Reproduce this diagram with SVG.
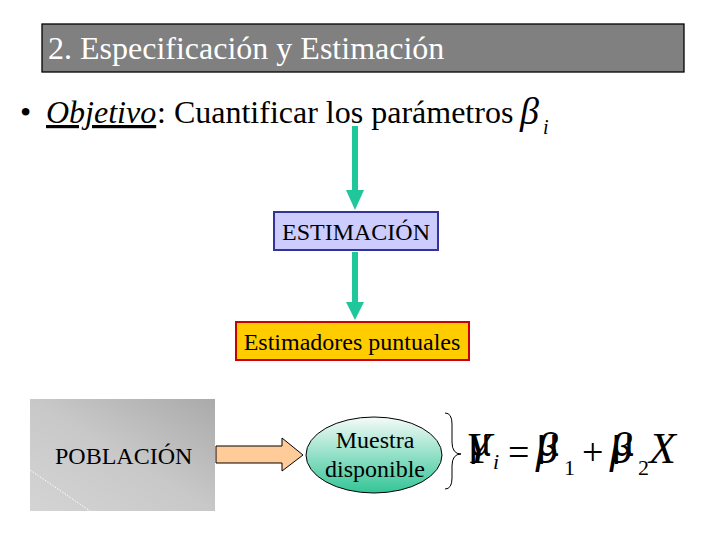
<svg xmlns="http://www.w3.org/2000/svg" width="720" height="540" viewBox="0 0 720 540">
<style>
.t{font-family:'Liberation Serif','Times New Roman',serif;fill:#000}
.it{font-style:italic}
.m{font-family:'Liberation Sans',Arial,sans-serif;font-weight:normal;fill:#000}
.green{fill:#1fc79a}
</style>
<defs>
<linearGradient id="pop" x1="0" y1="1" x2="1" y2="0">
<stop offset="0" stop-color="#d4d4d4"/>
<stop offset="0.5" stop-color="#c8c8c8"/>
<stop offset="1" stop-color="#aaaaaa"/>
</linearGradient>
<linearGradient id="ell" x1="0" y1="0" x2="0" y2="1">
<stop offset="0" stop-color="#f4fbf8"/>
<stop offset="1" stop-color="#33c596"/>
</linearGradient>
</defs>
<rect width="720" height="540" fill="#fff"/>
<g id="title">
<rect x="42" y="24" width="642" height="48" fill="#808080" stroke="#000" stroke-width="1.3"/>
<text class="t" x="48" y="59" font-size="32" style="fill:#fff">2. Especificación y Estimación</text>
</g>
<g id="objetivo">
<text class="t" x="20" y="123" font-size="32">•</text>
<text class="t it" x="46" y="123" font-size="32" text-decoration="underline">Objetivo</text>
<text class="t" x="157" y="123" font-size="32">: Cuantificar los parámetros</text>
<text class="t it" x="520" y="124" font-size="38">β</text>
<text class="t it" x="543" y="134" font-size="20">i</text>
</g>
<g id="connectors">
<rect class="green" x="352" y="126" width="6" height="66"/>
<polygon class="green" points="346,190 364,190 355,210"/>
<rect class="green" x="352" y="252" width="6" height="52"/>
<polygon class="green" points="346,302 364,302 355,320"/>
<polygon points="216,446 282,446 282,438 303,455 282,471 282,463 216,463" fill="#ffcc99" stroke="#000" stroke-width="1"/>
<path d="M445,413 Q452,413 452,424 L452,442 Q452,454 461,454 Q452,454 452,466 L452,478 Q452,489 445,489" fill="none" stroke="#000" stroke-width="1"/>
</g>
<g id="estimacion">
<rect x="274" y="212" width="164" height="38" fill="#ccccff" stroke="#333399" stroke-width="2"/>
<text class="t" x="356" y="240" font-size="24" text-anchor="middle">ESTIMACIÓN</text>
</g>
<g id="estimadores">
<rect x="236" y="322" width="233" height="38" fill="#ffcc00" stroke="#cc0000" stroke-width="2"/>
<text class="t" x="352" y="350" font-size="24" text-anchor="middle">Estimadores puntuales</text>
</g>
<g id="poblacion">
<rect x="30" y="399" width="185" height="112" fill="url(#pop)"/>
<line x1="30" y1="470" x2="90" y2="511" stroke="#fff" stroke-width="1" stroke-dasharray="1.5,1.5"/>
<text class="t" x="55" y="464" font-size="24">POBLACIÓN</text>
</g>
<g id="muestra">
<ellipse cx="374" cy="455" rx="68" ry="38" fill="url(#ell)" stroke="#000" stroke-width="1"/>
<text class="t" x="375" y="448" font-size="24" text-anchor="middle">Muestra</text>
<text class="t" x="375" y="477" font-size="24" text-anchor="middle">disponible</text>
</g>
<g id="formula">
<text class="t it" x="466" y="463" font-size="44">Y</text>
<text class="m" x="469" y="456" font-size="38">µ</text>
<text class="t it" x="493" y="469" font-size="22">i</text>
<text class="t" x="508" y="465" font-size="38">=</text>
<text class="t it" x="536" y="463" font-size="44">β</text>
<text class="m" x="537" y="456" font-size="38">µ</text>
<text class="t" x="564" y="475" font-size="22">1</text>
<text class="t" x="582" y="465" font-size="38">+</text>
<text class="t it" x="610" y="463" font-size="44">β</text>
<text class="m" x="612" y="456" font-size="38">µ</text>
<text class="t" x="638" y="475" font-size="22">2</text>
<text class="t it" x="649" y="463" font-size="44">X</text>
</g>
</svg>
